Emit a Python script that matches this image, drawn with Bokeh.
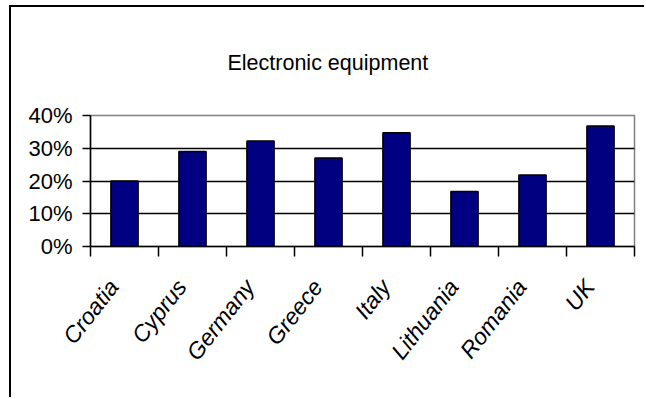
import math
from bokeh.plotting import figure
from bokeh.models import (FixedTicker, LinearAxis, Range1d, Grid, Title,
                          PrintfTickFormatter, ColumnDataSource)
from bokeh.embed import file_html
from bokeh.resources import INLINE

# Share of households owning electronic equipment, by country (%)
countries = ["Croatia", "Cyprus", "Germany", "Greece", "Italy", "Lithuania", "Romania", "UK"]
shares = [20.0, 29.0, 32.2, 27.0, 34.7, 16.8, 21.8, 36.8]
y_ticks = [0, 10, 20, 30, 40]

FONT = "Liberation Sans"

positions = [i + 0.5 for i in range(len(countries))]
label_positions = [x - 0.16 for x in positions]
src = ColumnDataSource(dict(x=positions, top=shares, name=countries))

p = figure(width=635, height=392, output_backend="svg", toolbar_location=None,
           x_range=Range1d(0, len(countries)), y_range=Range1d(0, 40),
           x_axis_type=None, y_axis_type=None,
           min_border_left=79, min_border_right=12,
           min_border_top=107, min_border_bottom=153,
           margin=(5, 0, 0, 9),
           styles={"border-top": "2px solid black", "border-left": "2px solid black"})
p.background_fill_color = "white"
p.border_fill_color = "white"
p.outline_line_color = "#808080"
p.outline_line_width = 1.5

# chart title
p.title = Title(text="Electronic equipment", align="left", offset=137,
                text_font=FONT, text_font_size="21.5px", text_font_style="normal",
                text_color="black", standoff=82)

# y axis with percent labels
yax = LinearAxis(ticker=FixedTicker(ticks=y_ticks),
                 formatter=PrintfTickFormatter(format="%d%%"))
yax.axis_line_color = "black"
yax.axis_line_width = 1.5
yax.major_tick_out = 8
yax.major_tick_in = 0
yax.major_tick_line_width = 1.5
yax.minor_tick_out = 0
yax.minor_tick_in = 0
yax.major_label_standoff = 10
yax.major_label_text_font = FONT
yax.major_label_text_font_size = "22px"
yax.major_label_text_color = "black"
p.add_layout(yax, "left")

# x axis: boundary ticks as minor ticks, country names under each bar
xax = LinearAxis(ticker=FixedTicker(ticks=label_positions, minor_ticks=list(range(len(countries) + 1))),
                 major_label_overrides={pos: name for pos, name in zip(label_positions, countries)})
xax.axis_line_color = "black"
xax.axis_line_width = 1.5
xax.major_tick_out = 0
xax.major_tick_in = 0
xax.minor_tick_out = 10
xax.minor_tick_in = 0
xax.minor_tick_line_color = "black"
xax.minor_tick_line_width = 1.5
xax.major_label_orientation = math.radians(52)
xax.major_label_standoff = 26
xax.major_label_text_font = FONT
xax.major_label_text_font_style = "italic"
xax.major_label_text_font_size = "23px"
xax.major_label_text_color = "black"
p.add_layout(xax, "below")

# horizontal gridlines at 10/20/30
p.add_layout(Grid(dimension=1, ticker=FixedTicker(ticks=y_ticks[1:-1]),
                  grid_line_color="black", grid_line_width=1.5, level="underlay"))

p.vbar(x="x", top="top", width=0.4, bottom=0, source=src,
       fill_color="#000080", line_color="black", line_width=1.5)

open("out.html", "w").write(file_html(p, INLINE))
